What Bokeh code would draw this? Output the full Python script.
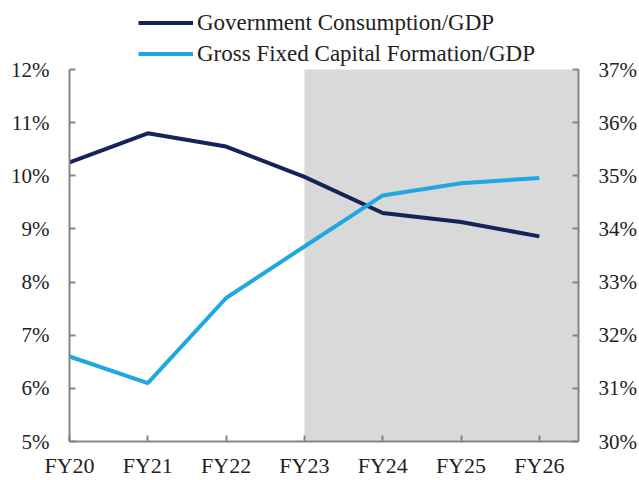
from bokeh.plotting import figure
from bokeh.models import (Range1d, LinearAxis, FixedTicker, PrintfTickFormatter,
                          BoxAnnotation, Legend, LegendItem)
from bokeh.embed import file_html
from bokeh.resources import INLINE

categories = ["FY20", "FY21", "FY22", "FY23", "FY24", "FY25", "FY26"]
gov_consumption = [10.25, 10.80, 10.55, 9.98, 9.30, 9.13, 8.86]   # % of GDP, left axis
gfcf = [31.60, 31.10, 32.70, 33.67, 34.63, 34.86, 34.96]           # % of GDP, right axis
forecast_start = "FY23"
left_ticks = [5, 6, 7, 8, 9, 10, 11, 12]
right_ticks = [30, 31, 32, 33, 34, 35, 36, 37]

FONT = "'Liberation Serif', 'DejaVu Serif', serif"
NAVY = "#14235A"
SKY = "#1FA7E1"
AXIS = "#858585"

# layout: axis area 372px tall, with 69px of headroom above it for the legend
AXIS_PX = 372.0
HEAD_PX = 69.0
lmin, lmax = left_ticks[0], left_ticks[-1]
rmin, rmax = right_ticks[0], right_ticks[-1]
extra = HEAD_PX / AXIS_PX * (lmax - lmin)

x = list(range(len(categories)))

p = figure(width=639, height=480, output_backend="svg", toolbar_location=None,
           x_range=Range1d(0, len(categories) - 0.5),
           y_range=Range1d(lmin, lmax + extra),
           min_border_left=69, min_border_right=59, min_border_top=0, min_border_bottom=39)
p.extra_y_ranges = {"right": Range1d(rmin, rmax + extra)}
p.outline_line_color = None
p.grid.visible = False
p.background_fill_color = "white"
p.border_fill_color = "white"

p.add_layout(BoxAnnotation(left=categories.index(forecast_start), top=lmax,
                           fill_color="#D9D9D9", fill_alpha=1.0, line_color=None,
                           level="underlay"))

r1 = p.line(x, gov_consumption, line_color=NAVY, line_width=4)
r2 = p.line(x, gfcf, line_color=SKY, line_width=4, y_range_name="right")

def style_axis(ax, standoff, size="21px"):
    ax.axis_line_color = AXIS
    ax.axis_line_width = 2
    ax.major_tick_line_color = AXIS
    ax.major_tick_line_width = 2
    ax.major_tick_in = 6
    ax.major_tick_out = 0
    ax.minor_tick_line_color = None
    ax.major_label_text_font = FONT
    ax.major_label_text_font_size = size
    ax.major_label_text_color = "#222222"
    ax.major_label_standoff = standoff

xa = p.xaxis[0]
xa.ticker = FixedTicker(ticks=x)
xa.major_label_overrides = {i: c for i, c in enumerate(categories)}
style_axis(xa, 11, "22px")

ya = p.yaxis[0]
ya.ticker = FixedTicker(ticks=left_ticks)
ya.formatter = PrintfTickFormatter(format="%d%%")
ya.bounds = (lmin, lmax)
style_axis(ya, 20)

ra = LinearAxis(y_range_name="right", ticker=FixedTicker(ticks=right_ticks),
                formatter=PrintfTickFormatter(format="%d%%"), bounds=(rmin, rmax))
style_axis(ra, 20)
p.add_layout(ra, "right")

legend = Legend(items=[LegendItem(label="Government Consumption/GDP", renderers=[r1]),
                       LegendItem(label="Gross Fixed Capital Formation/GDP", renderers=[r2])],
                location=(69, 374), orientation="vertical",
                glyph_width=55, glyph_height=27, label_height=27, label_standoff=4,
                spacing=4, padding=0, margin=0, border_line_color=None,
                background_fill_alpha=0, label_text_font=FONT, label_text_font_size="23px",
                label_text_color="#222222")
p.add_layout(legend, "center")

open("out.html", "w").write(file_html(p, INLINE))
